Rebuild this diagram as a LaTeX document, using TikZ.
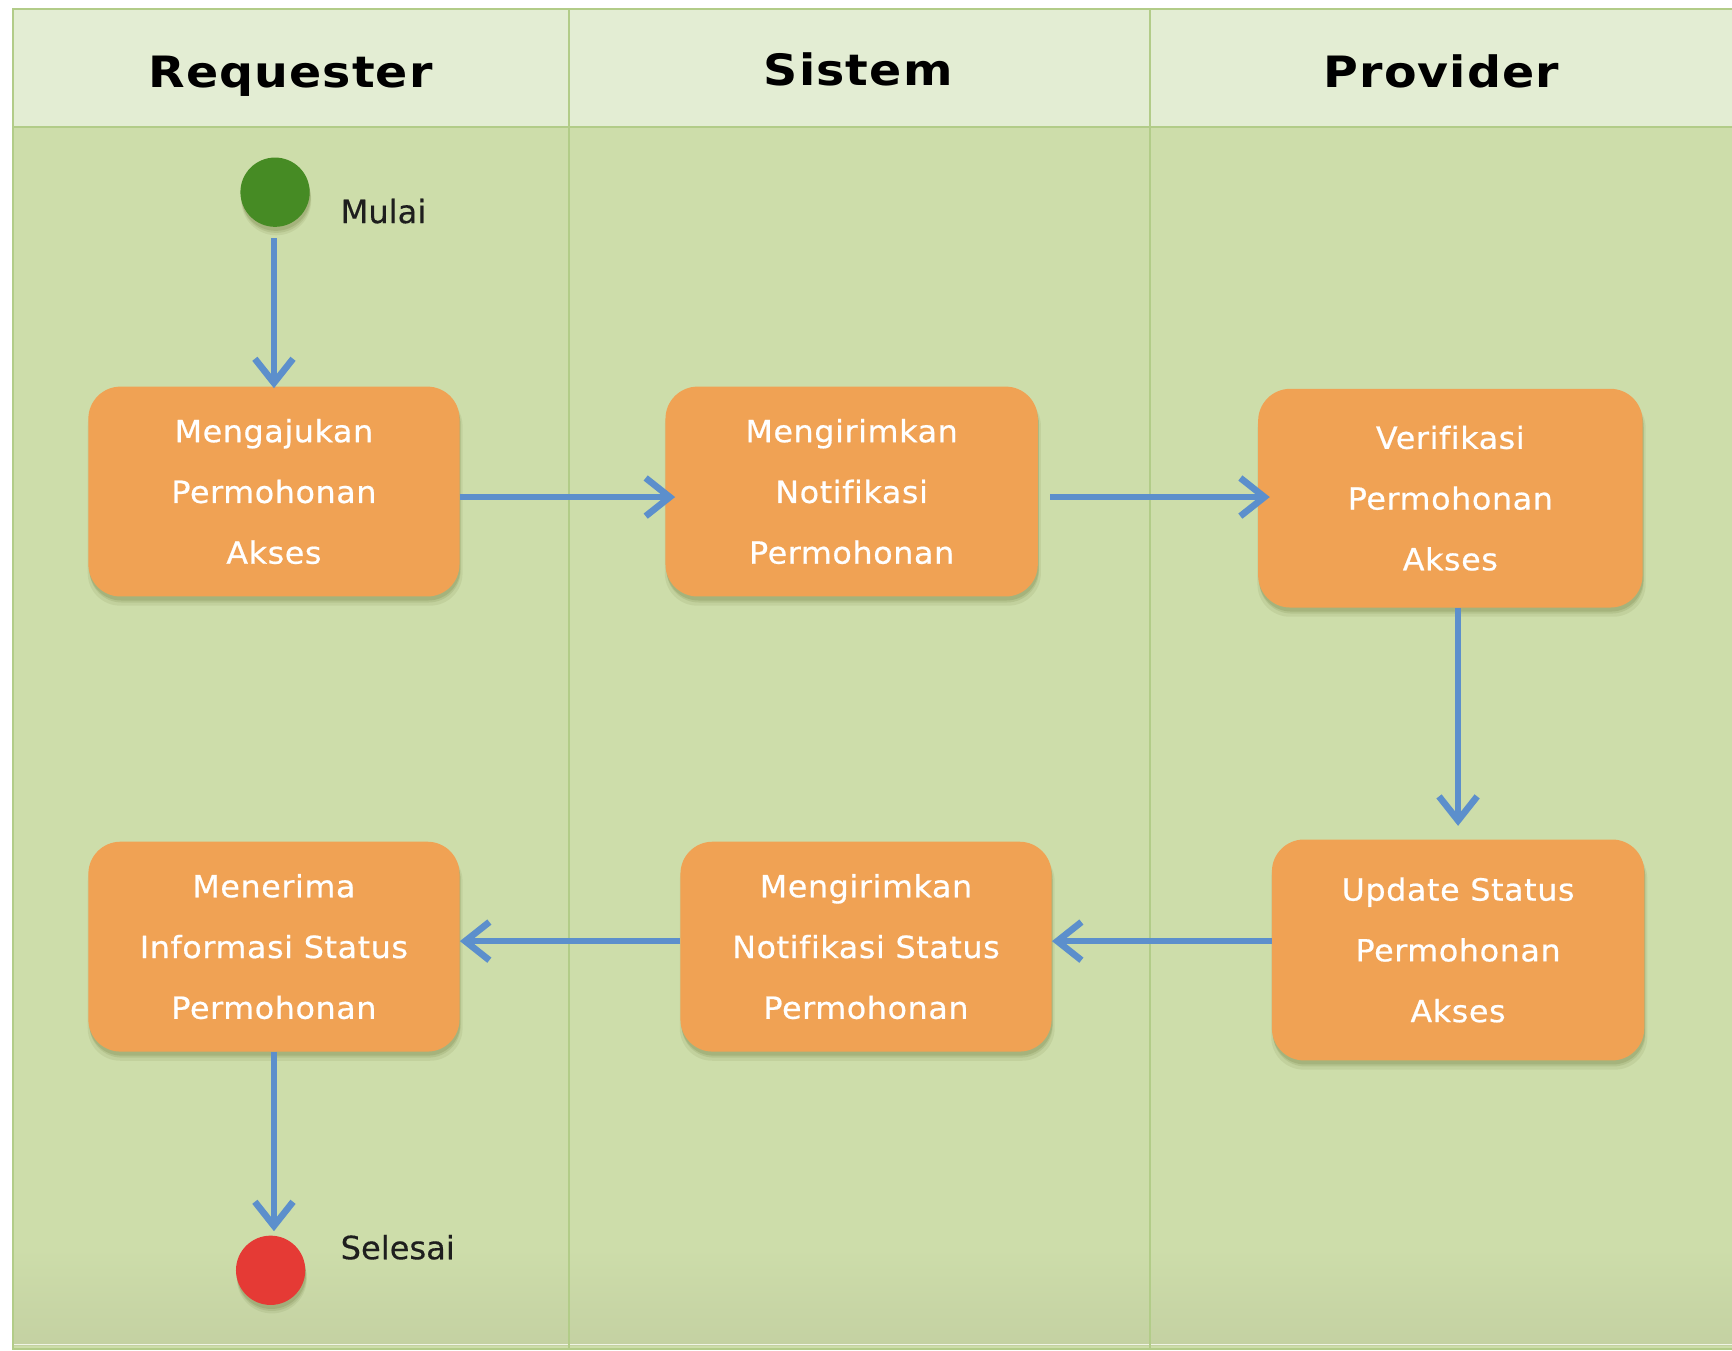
\documentclass[tikz,border=0pt]{standalone}
\usepackage{fontspec}
\setmainfont{DejaVu Sans}
\newfontfamily\hdrfont[LetterSpace=2.5,FakeStretch=1.1,Ligatures=NoCommon]{DejaVu Sans}
\newfontfamily\boxfont[LetterSpace=2,FakeStretch=1.04,FakeBold=0.6,Ligatures=NoCommon]{DejaVu Sans}
\newfontfamily\lblfont[FakeBold=0.3,Ligatures=NoCommon]{DejaVu Sans}
\usetikzlibrary{arrows.meta,shadows}
\definecolor{headfill}{RGB}{227,237,211}
\definecolor{bodyfill}{RGB}{205,221,170}
\definecolor{bandfill}{RGB}{196,209,162}
\definecolor{lanerule}{RGB}{178,204,136}
\definecolor{boxorange}{RGB}{240,162,84}
\definecolor{startgreen}{RGB}{70,139,36}
\definecolor{stopred}{RGB}{229,58,53}
\definecolor{flowblue}{RGB}{92,143,204}
\definecolor{shadowcol}{RGB}{100,110,50}
\definecolor{labeltext}{RGB}{30,30,30}
\begin{document}
\begin{tikzpicture}[x=0.55pt,y=-0.55pt,
  softshadow/.style={
    drop shadow={shadow xshift=0.6pt, shadow yshift=-4pt, shadow scale=1.01, opacity=0.10, fill=shadowcol},
    drop shadow={shadow xshift=0.6pt, shadow yshift=-3pt, opacity=0.14, fill=shadowcol},
    drop shadow={shadow xshift=0.4pt, shadow yshift=-2pt, opacity=0.18, fill=shadowcol}},
  actbox/.style={draw=none, fill=boxorange, rounded corners=16pt, text=white,
    align=center, inner sep=0pt,
    font=\boxfont\fontsize{15.2}{30.25}\selectfont, softshadow},
  flow/.style={draw=flowblue, line width=3.3pt, -{Straight Barb[length=12pt,width=19pt]}},
  lanehead/.style={anchor=base, inner sep=0pt, text=black,
    font=\hdrfont\bfseries\fontsize{21.5}{24}\selectfont},
  statelabel/.style={anchor=base west, inner sep=0pt, text=labeltext,
    font=\lblfont\fontsize{16}{19}\selectfont},
  terminal/.style={circle, draw=none, inner sep=0pt, minimum size=34.5pt, softshadow}
]
\useasboundingbox (0,0) rectangle (1568,1223);
% lanes
\fill[headfill] (12,8) rectangle (1575,115);
\fill[bodyfill] (12,115) rectangle (1575,1221);
\shade[top color=bodyfill, bottom color=bandfill] (12,1130) rectangle (1575,1218);
\draw[white!70!bodyfill, line width=0.8pt] (12,1217) -- (1575,1217);
\draw[lanerule, line width=1.2pt] (12,8) rectangle (1580,1221);
\draw[lanerule, line width=1.2pt] (12,115) -- (1575,115);
\draw[lanerule, line width=1.2pt] (515,8) -- (515,1221);
\draw[lanerule, line width=1.2pt] (1041,8) -- (1041,1221);
% headers
\node[lanehead] (hreq) at (263,79) {Requester};
\node[lanehead] (hsis) at (777,77) {Sistem};
\node[lanehead] (hpro) at (1305,79) {Provider};
% start / end
\node[terminal, fill=startgreen] (start) at (249,174) {};
\node[statelabel] (mulai) at (308,202) {Mulai};
\node[terminal, fill=stopred] (stop) at (245,1150) {};
\node[statelabel] (selesai) at (308,1140) {Selesai};
% activities
\node[actbox, minimum width=184.8pt, minimum height=104.5pt] (b1) at (248,445)
  {Mengajukan\\Permohonan\\Akses};
\node[actbox, minimum width=185.4pt, minimum height=104.5pt] (b2) at (771,445)
  {Mengirimkan\\Notifikasi\\Permohonan};
\node[actbox, minimum width=191.4pt, minimum height=108.9pt] (b3) at (1313,451)
  {Verifikasi\\Permohonan\\Akses};
\node[actbox, minimum width=185.4pt, minimum height=110pt] (b4) at (1320,860)
  {Update Status\\Permohonan\\Akses};
\node[actbox, minimum width=184.8pt, minimum height=104.5pt] (b5) at (784,857)
  {Mengirimkan\\Notifikasi Status\\Permohonan};
\node[actbox, minimum width=184.8pt, minimum height=104.5pt] (b6) at (248,857)
  {Menerima\\Informasi Status\\Permohonan};
% connectors
\draw[flow, shorten <=5.5pt, shorten >=-1pt] (start.south -| b1.north) -- (b1.north);
\draw[flow, shorten >=-5pt] ([yshift=-2.75pt]b1.east) -- ([yshift=-2.75pt]b1.east -| b2.west);
\draw[flow, shorten <=6pt, shorten >=-6pt] ([yshift=-2.75pt]b2.east) -- ([yshift=-2.75pt]b2.east -| b3.west);
\draw[flow, shorten >=6.6pt] (b3.south -| b4.north) -- (b4.north);
\draw[flow] ([yshift=2.75pt]b5.east -| b4.west) -- ([yshift=2.75pt]b5.east);
\draw[flow] ([yshift=2.75pt]b5.west) -- ([yshift=2.75pt]b5.west -| b6.east);
\draw[flow, shorten >=2pt] (b6.south) -- (b6.south |- stop.north);
\end{tikzpicture}
\end{document}
